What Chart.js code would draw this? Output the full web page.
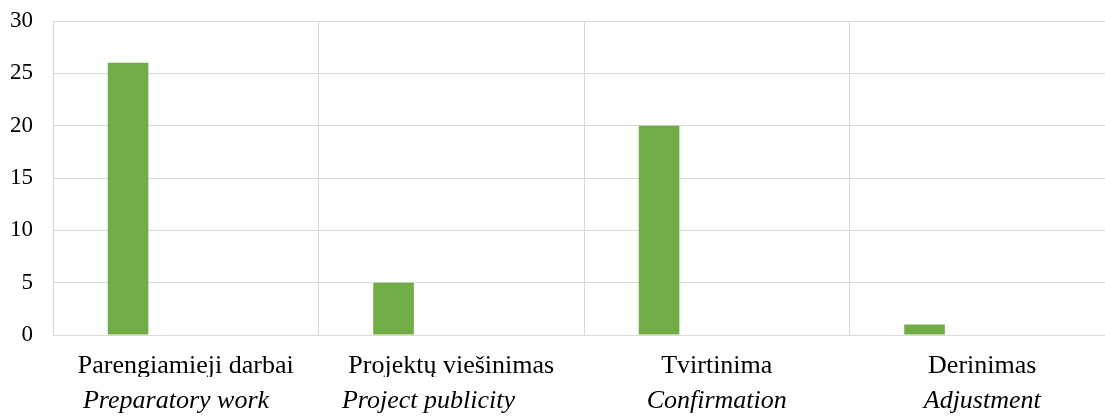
<!DOCTYPE html>
<html>
<head>
<meta charset="utf-8">
<script src="https://cdn.jsdelivr.net/npm/chart.js@4.4.1/dist/chart.umd.min.js"></script>
<style>
  html, body { margin: 0; padding: 0; background: #fff; overflow: hidden; }
  #wrap { width: 1120px; height: 416px; position: relative; }
</style>
</head>
<body>
<div id="wrap"><canvas id="chart"></canvas></div>
<script>
// categories (LT on first row, EN italic on second row)
const categoriesLt = ['Parengiamieji darbai', 'Projektų viešinimas', 'Tvirtinima', 'Derinimas'];
const categoriesEn = ['Preparatory work   ', 'Project publicity       ', 'Confirmation', 'Adjustment'];
const values = [26, 5, 20, 1];
// the source chart had two more series with no values, they keep the bars to the left
const emptyA = [null, null, null, null];
const emptyB = [null, null, null, null];
const yTicks = [0, 5, 10, 15, 20, 25, 30];

const gridColor = '#d9d9d9';
const serif = "'Liberation Serif', 'Times New Roman', serif";

new Chart(document.getElementById('chart'), {
    type: 'bar',
    data: {
        labels: categoriesLt,
        datasets: [
            { label: 'Series 1', data: values, backgroundColor: '#70ad47', borderWidth: 0, barPercentage: 0.704, categoryPercentage: 0.652 },
            { label: 'Series 2', data: emptyA, backgroundColor: '#4472c4', barPercentage: 0.704, categoryPercentage: 0.652 },
            { label: 'Series 3', data: emptyB, backgroundColor: '#a5a5a5', barPercentage: 0.704, categoryPercentage: 0.652 }
        ]
    },
    options: {
        responsive: true,
        maintainAspectRatio: false,
        animation: false,
        layout: { padding: { top: 21, right: 5, left: 0, bottom: 0 } },
        plugins: { legend: { display: false }, tooltip: { enabled: false } },
        scales: {
            x: {
                type: 'category',
                position: 'bottom',
                weight: 0,
                afterFit: s => { s.height = 42; },
                grid: { color: gridColor, lineWidth: 1, drawTicks: false, offset: true },
                border: { color: gridColor, width: 1 },
                ticks: { color: '#000', font: { family: serif, size: 26 }, padding: 16, maxRotation: 0, autoSkip: false }
            },
            x2: {
                type: 'category',
                position: 'bottom',
                weight: 1,
                labels: categoriesEn,
                offset: true,
                afterFit: s => { s.height = 39; },
                grid: { display: false, drawTicks: false },
                border: { display: false },
                ticks: { color: '#000', font: { family: serif, size: 26, style: 'italic' }, padding: 9, maxRotation: 0, autoSkip: false }
            },
            y: {
                min: 0,
                max: 30,
                afterFit: s => { s.width = 53; s.paddingTop = 0; s.paddingBottom = 0; },
                afterBuildTicks: s => { s.ticks = yTicks.map(v => ({ value: v })); },
                grid: { color: gridColor, lineWidth: 1, drawTicks: false },
                border: { display: false },
                ticks: { color: '#000', font: { family: serif, size: 23 }, padding: 20 }
            }
        }
    }
});
</script>
</body>
</html>
